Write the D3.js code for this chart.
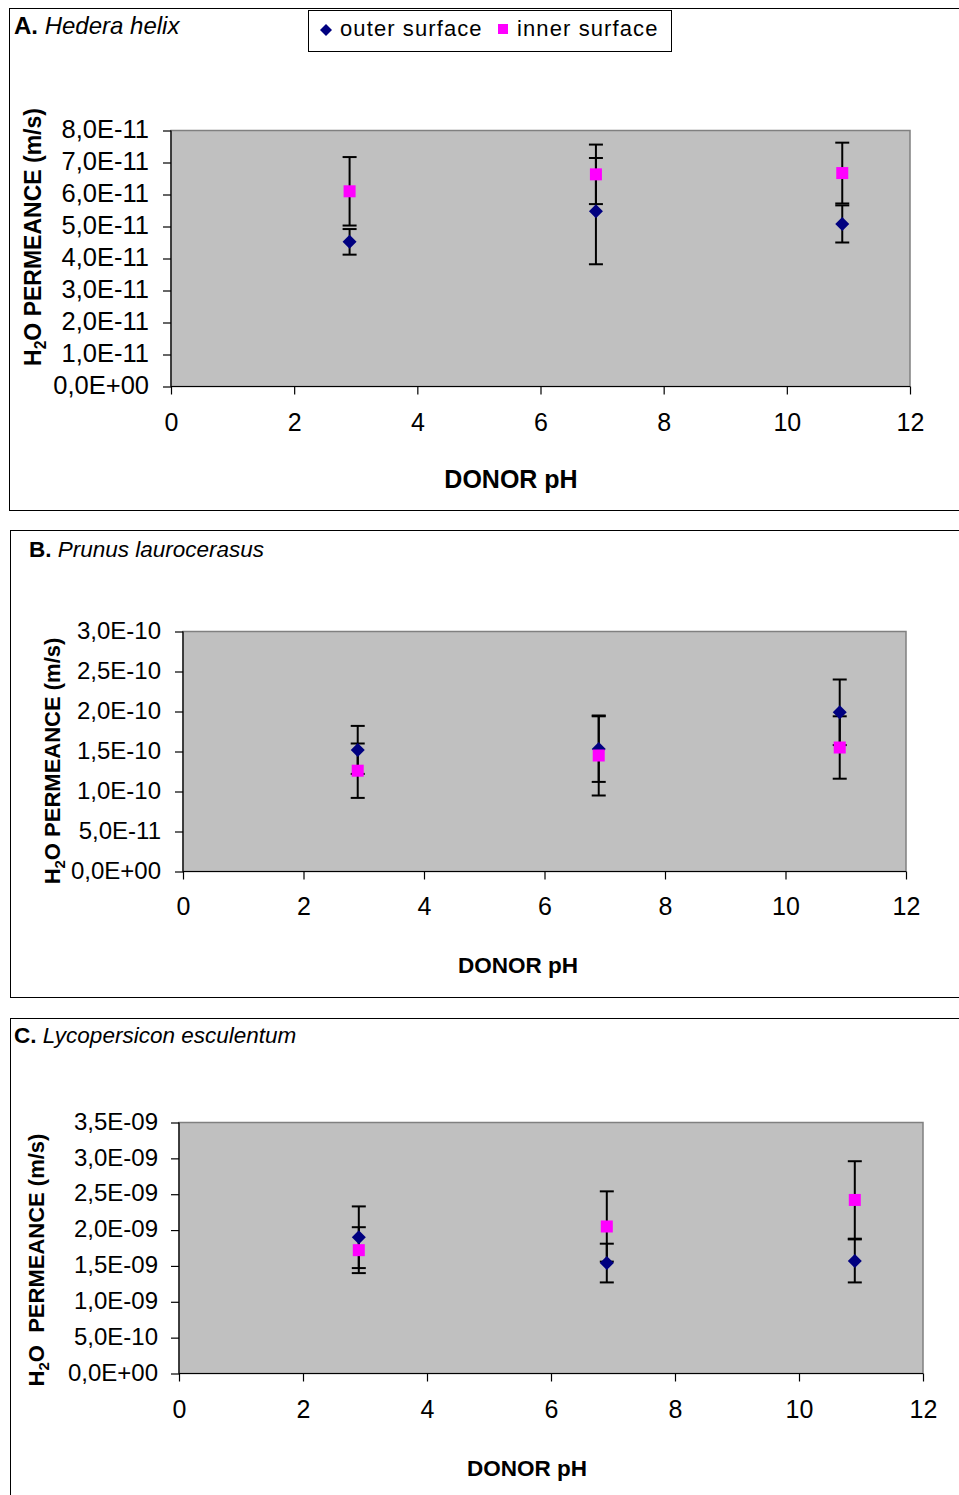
<!DOCTYPE html>
<html>
<head>
<meta charset="utf-8">
<script src="https://cdn.jsdelivr.net/npm/d3@7"></script>
<style>
  body { margin: 0; background: #fff; }
  text { font-family: "Liberation Sans", Arial, sans-serif; fill: #000; }
</style>
</head>
<body>
<svg id="chart" width="959" height="1495"></svg>
<script>
// Donor pH levels shared by all three species
const phLevels = [2.9, 6.9, 10.9];
const xTickValues = [0, 2, 4, 6, 8, 10, 12];

// A. Hedera helix (m/s)
const hederaOuter    = [4.52e-11, 5.48e-11, 5.08e-11];
const hederaOuterErr = [0.40e-11, 1.66e-11, 0.58e-11];
const hederaInner    = [6.10e-11, 6.63e-11, 6.67e-11];
const hederaInnerErr = [1.07e-11, 0.93e-11, 0.95e-11];
const hederaTicks    = [0, 1e-11, 2e-11, 3e-11, 4e-11, 5e-11, 6e-11, 7e-11, 8e-11];

// B. Prunus laurocerasus (m/s)
const prunusOuter    = [1.52e-10, 1.53e-10, 1.99e-10];
const prunusOuterErr = [0.30e-10, 0.41e-10, 0.41e-10];
const prunusInner    = [1.26e-10, 1.45e-10, 1.55e-10];
const prunusInnerErr = [0.34e-10, 0.50e-10, 0.39e-10];
const prunusTicks    = [0, 0.5e-10, 1.0e-10, 1.5e-10, 2.0e-10, 2.5e-10, 3.0e-10];

// C. Lycopersicon esculentum (m/s)
const lycoOuter      = [1.90e-9, 1.54e-9, 1.57e-9];
const lycoOuterErr   = [0.43e-9, 0.27e-9, 0.30e-9];
const lycoInner      = [1.72e-9, 2.05e-9, 2.42e-9];
const lycoInnerErr   = [0.32e-9, 0.49e-9, 0.54e-9];
const lycoTicks      = [0, 0.5e-9, 1.0e-9, 1.5e-9, 2.0e-9, 2.5e-9, 3.0e-9, 3.5e-9];

const seriesNames = ["outer surface", "inner surface"];
const OUTER_COLOR = "#000080";
const INNER_COLOR = "#FF00FF";
const FONT = "\"Liberation Sans\", Arial, sans-serif";

// Excel-style scientific label: 5,0E-11
function sciLabel(v) {
  if (v === 0) return "0,0E+00";
  const e = Math.floor(Math.log10(v) + 1e-9);
  const m = v / Math.pow(10, e);
  const sign = e < 0 ? "-" : "+";
  return m.toFixed(1).replace(".", ",") + "E" + sign + String(Math.abs(e)).padStart(2, "0");
}

const panels = [
  {
    letter: "A.", species: "Hedera helix",
    outer: hederaOuter, outerErr: hederaOuterErr, inner: hederaInner, innerErr: hederaInnerErr,
    yTicks: hederaTicks,
    box: { x: 9.5, y: 8.5, w: 970, h: 502 },
    plot: { l: 171, r: 910, t: 130.5, b: 386.5 },
    title: { x: 14, y: 34, size: 24 },
    yTitle: { x: 41, y: 237, size: 23, gap: 0 },
    yLabelRight: 149, yLabelSize: 25.5, xLabelY: 431,
    xTitle: { x: 511, y: 488, size: 25 },
    legend: true
  },
  {
    letter: "B.", species: "Prunus laurocerasus",
    outer: prunusOuter, outerErr: prunusOuterErr, inner: prunusInner, innerErr: prunusInnerErr,
    yTicks: prunusTicks,
    box: { x: 10.5, y: 530.5, w: 970, h: 467 },
    plot: { l: 183, r: 906, t: 631.5, b: 871.5 },
    title: { x: 29, y: 557, size: 22.5 },
    yTitle: { x: 60, y: 761, size: 22, gap: 0 },
    yLabelRight: 161, yLabelSize: 24, xLabelY: 915,
    xTitle: { x: 518, y: 973, size: 22.5 },
    legend: false
  },
  {
    letter: "C.", species: "Lycopersicon esculentum",
    outer: lycoOuter, outerErr: lycoOuterErr, inner: lycoInner, innerErr: lycoInnerErr,
    yTicks: lycoTicks,
    box: { x: 10.5, y: 1018.5, w: 970, h: 520 },
    plot: { l: 179, r: 923, t: 1122.5, b: 1373.5 },
    title: { x: 14, y: 1043, size: 22.5 },
    yTitle: { x: 44, y: 1260, size: 22, gap: 1 },
    yLabelRight: 158, yLabelSize: 24, xLabelY: 1418,
    xTitle: { x: 527, y: 1476, size: 22.5 },
    legend: false
  }
];

const svg = d3.select("#chart");

function diamond(g, cx, cy, r) {
  g.append("path")
    .attr("d", `M${cx},${cy - r}L${cx + r},${cy}L${cx},${cy + r}L${cx - r},${cy}Z`)
    .attr("fill", OUTER_COLOR);
}
function square(g, cx, cy, s) {
  g.append("rect")
    .attr("x", cx - s / 2).attr("y", cy - s / 2)
    .attr("width", s).attr("height", s)
    .attr("fill", INNER_COLOR);
}

panels.forEach(p => {
  const g = svg.append("g");

  // panel frame
  g.append("rect")
    .attr("x", p.box.x).attr("y", p.box.y)
    .attr("width", p.box.w).attr("height", p.box.h)
    .attr("fill", "none").attr("stroke", "#000").attr("stroke-width", 1);

  // panel title
  const t = g.append("text").attr("x", p.title.x).attr("y", p.title.y).attr("font-size", p.title.size);
  t.append("tspan").attr("font-weight", "bold").text(p.letter);
  t.append("tspan").attr("font-style", "italic").text(" " + p.species);

  const x = d3.scaleLinear().domain([0, 12]).range([p.plot.l, p.plot.r]);
  const y = d3.scaleLinear().domain([0, d3.max(p.yTicks)]).range([p.plot.b, p.plot.t]);

  // plot area
  g.append("rect")
    .attr("x", p.plot.l).attr("y", p.plot.t)
    .attr("width", p.plot.r - p.plot.l).attr("height", p.plot.b - p.plot.t)
    .attr("fill", "#C0C0C0").attr("stroke", "#808080").attr("stroke-width", 1.5);

  // y axis
  const yAxis = g.append("g")
    .attr("transform", `translate(${p.plot.l},0)`)
    .call(d3.axisLeft(y).tickValues(p.yTicks).tickSize(8)
      .tickPadding(p.plot.l - 8 - p.yLabelRight).tickFormat(sciLabel));
  yAxis.select(".domain").attr("stroke", "#000").attr("stroke-width", 1.2).attr("d", `M0,${p.plot.t}V${p.plot.b}`);
  yAxis.selectAll(".tick line").attr("stroke", "#000").attr("stroke-width", 1.2);
  yAxis.selectAll(".tick text")
    .attr("font-family", FONT).attr("font-size", p.yLabelSize).attr("fill", "#000")
    .attr("dy", "0.28em");

  // x axis
  const xAxis = g.append("g")
    .attr("transform", `translate(0,${p.plot.b})`)
    .call(d3.axisBottom(x).tickValues(xTickValues).tickSize(8).tickFormat(d3.format("d")));
  xAxis.select(".domain").attr("stroke", "#000").attr("stroke-width", 1.2).attr("d", `M${p.plot.l},0H${p.plot.r}`);
  xAxis.selectAll(".tick line").attr("stroke", "#000").attr("stroke-width", 1.2);
  xAxis.selectAll(".tick text")
    .attr("font-family", FONT).attr("font-size", 25).attr("fill", "#000")
    .attr("dy", null).attr("y", p.xLabelY - p.plot.b);

  // axis titles
  g.append("text")
    .attr("x", p.xTitle.x).attr("y", p.xTitle.y)
    .attr("text-anchor", "middle").attr("font-weight", "bold").attr("font-size", p.xTitle.size)
    .text("DONOR pH");

  const yt = g.append("text")
    .attr("transform", `translate(${p.yTitle.x},${p.yTitle.y}) rotate(-90)`)
    .attr("text-anchor", "middle").attr("font-weight", "bold").attr("font-size", p.yTitle.size);
  yt.append("tspan").text("H");
  yt.append("tspan").attr("font-size", p.yTitle.size * 0.68).attr("dy", 5).text("2");
  yt.append("tspan").attr("dy", -5).text("O" + (p.yTitle.gap ? "\u00a0 " : " ") + "PERMEANCE (m/s)");

  // error bars (drawn beneath the markers)
  const bars = g.append("g").attr("stroke", "#000").attr("stroke-width", 2);
  [[p.outer, p.outerErr], [p.inner, p.innerErr]].forEach(([vals, errs]) => {
    vals.forEach((v, i) => {
      const cx = x(phLevels[i]);
      const hi = y(v + errs[i]), lo = y(v - errs[i]);
      bars.append("line").attr("x1", cx).attr("x2", cx).attr("y1", hi).attr("y2", lo);
      bars.append("line").attr("x1", cx - 7).attr("x2", cx + 7).attr("y1", hi).attr("y2", hi);
      bars.append("line").attr("x1", cx - 7).attr("x2", cx + 7).attr("y1", lo).attr("y2", lo);
    });
  });

  // markers
  p.outer.forEach((v, i) => diamond(g, x(phLevels[i]), y(v), 7));
  p.inner.forEach((v, i) => square(g, x(phLevels[i]), y(v), 12));

  // legend
  if (p.legend) {
    const lg = g.append("g");
    lg.append("rect").attr("x", 308.5).attr("y", 10.5).attr("width", 363).attr("height", 41)
      .attr("fill", "#fff").attr("stroke", "#000").attr("stroke-width", 1);
    diamond(lg, 326, 30, 6);
    lg.append("text").attr("x", 340).attr("y", 36).attr("font-size", 22).attr("letter-spacing", 1.1)
      .text(seriesNames[0]);
    square(lg, 503, 29, 10);
    lg.append("text").attr("x", 517).attr("y", 36).attr("font-size", 22).attr("letter-spacing", 1.1)
      .text(seriesNames[1]);
  }
});
</script>
</body>
</html>
